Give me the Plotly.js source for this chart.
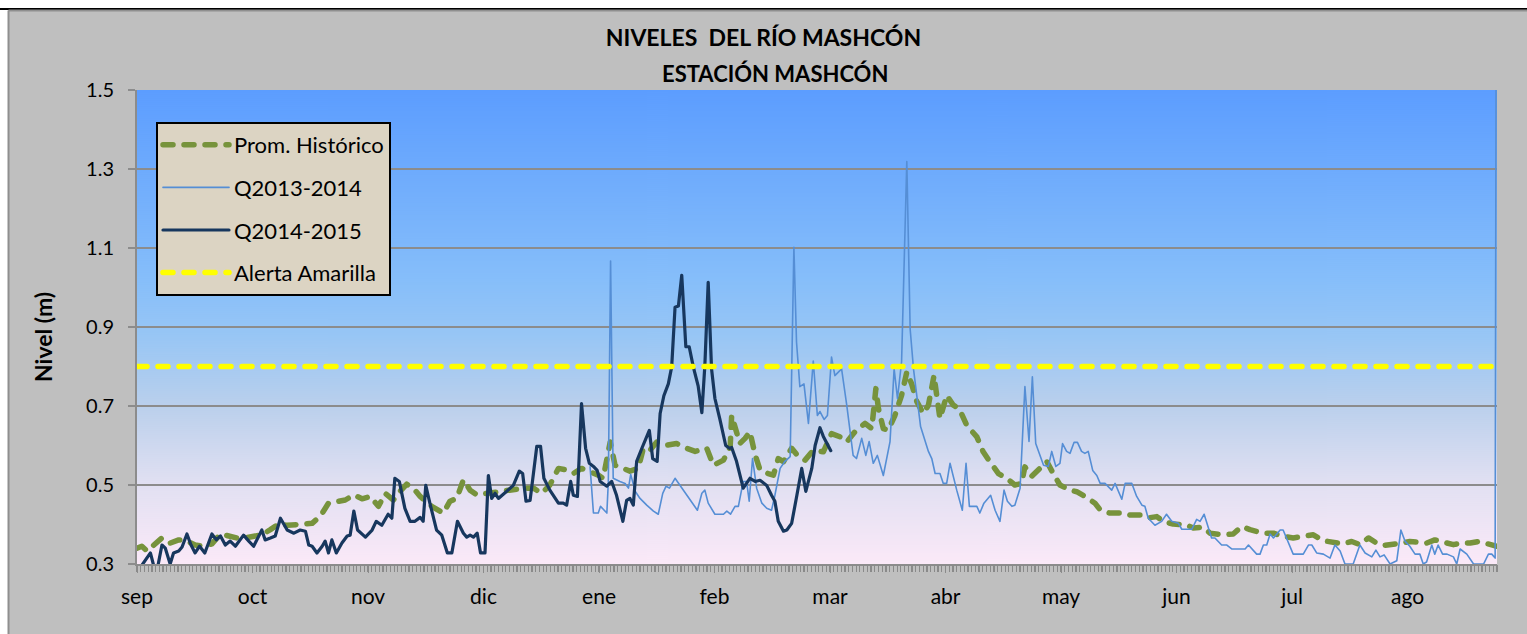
<!DOCTYPE html>
<html>
<head>
<meta charset="utf-8">
<script src="https://cdn.plot.ly/plotly-3.0.1.min.js"></script>
<style>
  html, body { margin: 0; padding: 0; background: #ffffff; }
  #chart { width: 1527px; height: 634px; }
  #chart .js-line { stroke-linecap: round !important; stroke-linejoin: round !important; }
</style>
</head>
<body>
<div id="chart"></div>
<script>
// ---------------- DATA ----------------
// x = day of hydrological year (0 = 1 sep), y = river level (m)
const monthLabels = ["sep","oct","nov","dic","ene","feb","mar","abr","may","jun","jul","ago"];
const monthTickDays = [0,31,62,93,124,155,186,217,248,279,310,341];
const levelTicks = [0.3,0.5,0.7,0.9,1.1,1.3,1.5];

const seriesNames = ["Prom. Histórico","Q2013-2014","Q2014-2015","Alerta Amarilla"];

const histDays = [0,1.3,2.7,4.5,6.7,8.9,11.2,13.4,15.6,17.9,
  20.1,22.4,24.6,26.8,29.1,31.3,33.5,35.8,38.0,40.3,
  42.5,44.7,47.0,49.2,51.4,53.7,55.9,58.2,60.4,62.6,
  64.8,66.6,68.8,70.6,72.4,74.6,76.0,79.1,82.2,84.0,
  85.8,87.6,89.4,91.2,93.9,97.4,101.0,103.7,106.4,108.6,
  110.8,113.1,115.3,117.1,119.3,121.6,123.8,125.1,127.0,128.3,
  130.1,132.3,134.5,135.9,137.7,139.5,142.2,144.8,147.5,149.8,
  152.9,154.7,157.4,159.2,159.6,160.5,161.8,163.2,164.5,165.9,
  167.2,169.4,170.8,172.1,173.5,175.7,177.5,179.3,181.5,184.2,
  186.4,188.7,190.5,192.7,195.4,197.2,198.3,199.0,200.3,201.6,
  203.4,205.2,206.6,207.9,209.3,211.0,212.4,213.9,214.8,215.5,
  217.3,219.1,220.7,222.7,225.4,227.1,228.9,231.2,233.4,235.6,
  237.4,238.3,240.1,242.4,244.2,245.9,247.7,250.4,252.2,254.4,
  257.1,258.5,261.1,264.3,266.5,269.2,271.0,273.7,275.4,278.1,
  281.7,283.5,286.2,288.0,291.5,294.2,296.5,298.7,302.3,305.0,
  307.6,310.3,313.0,315.7,318.4,321.1,323.7,326.0,328.2,330.5,
  332.7,334.5,336.7,339.4,341.6,343.8,346.1,348.3,350.6,353.3,
  355.5,357.8,360.0,362.3,364.1,365];
const histLevels = [0.340,0.345,0.333,0.349,0.366,0.353,0.361,0.358,0.348,0.345,
  0.351,0.376,0.371,0.366,0.366,0.371,0.374,0.387,0.401,0.398,
  0.398,0.401,0.403,0.421,0.454,0.459,0.462,0.475,0.465,0.471,
  0.446,0.479,0.462,0.484,0.502,0.487,0.471,0.446,0.429,0.459,
  0.466,0.513,0.487,0.475,0.479,0.484,0.487,0.492,0.492,0.479,
  0.500,0.542,0.538,0.529,0.542,0.535,0.525,0.517,0.609,0.550,
  0.542,0.535,0.542,0.593,0.588,0.609,0.601,0.605,0.593,0.585,
  0.593,0.550,0.563,0.597,0.676,0.643,0.605,0.618,0.635,0.576,
  0.538,0.529,0.525,0.567,0.559,0.593,0.572,0.563,0.588,0.584,
  0.630,0.622,0.609,0.635,0.656,0.643,0.744,0.693,0.643,0.639,
  0.676,0.727,0.786,0.756,0.711,0.681,0.702,0.777,0.727,0.668,
  0.727,0.702,0.693,0.651,0.622,0.584,0.559,0.529,0.517,0.500,
  0.504,0.546,0.522,0.542,0.559,0.529,0.500,0.487,0.483,0.471,
  0.454,0.437,0.429,0.429,0.424,0.424,0.416,0.420,0.408,0.401,
  0.399,0.391,0.393,0.378,0.374,0.376,0.395,0.387,0.378,0.378,
  0.370,0.366,0.370,0.374,0.359,0.356,0.351,0.357,0.349,0.366,
  0.353,0.347,0.349,0.353,0.357,0.356,0.353,0.361,0.357,0.349,
  0.353,0.353,0.357,0.353,0.349,0.345];

const q1314Days = [121.6,122.5,123.8,124.4,126.1,126.5,127.1,127.8,129.6,131.0,
  131.9,132.5,133.7,135.0,136.8,138.6,139.9,141.1,142.0,142.9,
  144.4,145.7,147.5,149.8,150.4,151.6,152.4,153.3,154.7,155.1,
  157.4,158.3,159.3,160.5,161.4,162.7,163.6,164.3,165.2,166.3,
  167.7,169.0,170.3,171.2,172.6,173.9,175.3,175.7,176.3,177.0,
  177.9,179.0,180.2,181.5,182.6,183.3,184.4,185.3,186.4,187.3,
  189.1,190.5,192.2,193.1,194.5,195.6,196.5,197.6,198.7,200.3,
  202.1,203.2,204.1,205.2,206.6,207.5,208.4,210.3,212.4,213.3,
  214.2,215.5,216.4,217.3,218.2,220.0,221.5,222.5,223.4,225.4,
  226.2,227.3,229.1,230.3,231.6,232.7,233.6,234.8,235.6,237.0,
  238.3,239.4,240.3,241.2,242.4,243.3,244.6,245.5,246.6,247.7,
  248.4,249.5,250.4,251.5,252.4,253.5,254.4,255.3,256.5,257.6,
  258.5,259.8,261.6,262.5,264.3,265.2,267.0,268.3,269.7,270.5,
  271.4,273.2,275.0,276.3,277.7,279.5,280.4,283.1,284.4,285.3,
  286.4,288.4,289.3,291.1,292.5,293.8,297.4,298.3,300.5,301.4,
  302.3,303.2,304.1,305.0,306.8,307.6,310.3,313.0,314.4,315.3,
  316.6,318.4,320.2,321.5,322.9,324.2,326.4,328.2,329.6,331.4,
  332.5,333.6,334.7,336.3,338.1,339.2,340.3,341.6,343.0,344.3,
  345.2,346.1,347.5,348.3,349.2,350.4,351.6,353.3,354.2,355.1,
  356.9,358.7,361.4,362.7,363.6,364.5,364.8];
const q1314Levels = [0.546,0.429,0.429,0.446,0.429,0.509,1.067,0.517,0.509,0.504,
  0.492,0.527,0.484,0.466,0.449,0.434,0.426,0.479,0.497,0.492,
  0.517,0.499,0.474,0.441,0.436,0.479,0.487,0.454,0.434,0.426,
  0.426,0.434,0.426,0.446,0.446,0.509,0.509,0.459,0.567,0.492,
  0.454,0.441,0.436,0.474,0.542,0.560,0.572,0.812,1.102,0.862,
  0.749,0.756,0.656,0.814,0.676,0.686,0.666,0.676,0.824,0.777,
  0.794,0.701,0.575,0.567,0.618,0.575,0.610,0.555,0.575,0.524,
  0.610,0.794,0.719,0.812,1.319,0.895,0.794,0.648,0.585,0.567,
  0.529,0.529,0.504,0.504,0.555,0.487,0.436,0.555,0.446,0.446,
  0.429,0.454,0.474,0.436,0.408,0.487,0.459,0.446,0.449,0.492,
  0.749,0.610,0.774,0.605,0.575,0.550,0.547,0.585,0.547,0.555,
  0.605,0.585,0.580,0.608,0.608,0.585,0.580,0.585,0.537,0.524,
  0.504,0.504,0.487,0.504,0.464,0.504,0.504,0.471,0.449,0.446,
  0.416,0.398,0.408,0.426,0.408,0.403,0.388,0.388,0.413,0.408,
  0.426,0.366,0.366,0.348,0.348,0.338,0.338,0.348,0.325,0.325,
  0.348,0.348,0.376,0.366,0.386,0.386,0.325,0.325,0.348,0.348,
  0.328,0.325,0.315,0.348,0.333,0.300,0.300,0.348,0.328,0.318,
  0.335,0.318,0.323,0.300,0.308,0.386,0.358,0.345,0.325,0.325,
  0.300,0.305,0.348,0.325,0.348,0.325,0.325,0.318,0.300,0.338,
  0.325,0.300,0.300,0.325,0.325,0.315,1.800];

const q1415Days = [0.8,3.6,4.5,5.6,6.7,7.6,8.9,9.8,11.2,12.1,
  13.4,14.5,15.6,16.8,18.2,20.1,21.3,22.4,23.7,25.0,
  26.4,28.6,30.0,31.3,33.5,34.4,35.8,37.1,38.5,40.3,
  42.1,43.8,45.2,46.1,47.0,48.3,49.7,50.5,51.4,52.3,
  53.5,55.0,56.4,57.2,58.2,59.2,61.3,63.1,64.2,65.7,
  67.4,68.4,69.2,70.4,71.9,73.3,74.6,76.0,76.8,77.5,
  78.6,80.4,81.8,83.3,84.5,86.0,87.6,88.5,89.4,90.3,
  91.3,92.2,93.4,94.3,95.2,96.1,97.0,99.2,101.0,102.6,
  103.5,104.4,105.5,107.3,108.3,109.2,110.8,113.1,114.4,115.3,
  116.4,117.1,118.2,119.3,120.4,121.4,122.5,123.5,124.3,126.1,
  127.4,128.7,130.4,131.4,132.3,133.2,134.1,135.5,137.5,138.4,
  139.6,140.4,141.4,142.6,143.5,144.4,145.3,146.2,147.3,148.2,
  149.3,150.6,151.6,152.4,153.3,154.2,155.1,156.4,158.0,159.0,
  159.6,160.9,162.7,164.5,165.9,167.2,169.0,170.3,171.2,172.1,
  173.5,174.4,175.7,177.1,178.4,179.5,181.1,182.0,183.3,184.2,
  185.1,186.2];
const q1415Levels = [0.290,0.328,0.295,0.295,0.348,0.340,0.300,0.328,0.333,0.343,
  0.376,0.348,0.328,0.345,0.328,0.376,0.361,0.371,0.348,0.358,
  0.345,0.373,0.358,0.345,0.386,0.361,0.366,0.371,0.416,0.386,
  0.378,0.386,0.383,0.348,0.345,0.328,0.345,0.358,0.328,0.361,
  0.328,0.353,0.371,0.373,0.434,0.386,0.368,0.386,0.408,0.398,
  0.426,0.416,0.517,0.509,0.441,0.408,0.408,0.418,0.408,0.499,
  0.454,0.386,0.373,0.328,0.328,0.408,0.378,0.368,0.373,0.368,
  0.378,0.328,0.328,0.524,0.466,0.479,0.466,0.484,0.499,0.535,
  0.529,0.459,0.461,0.598,0.598,0.517,0.487,0.454,0.454,0.449,
  0.509,0.474,0.471,0.706,0.593,0.555,0.547,0.537,0.509,0.497,
  0.509,0.474,0.408,0.461,0.466,0.449,0.560,0.593,0.638,0.567,
  0.560,0.681,0.726,0.756,0.799,0.950,0.953,1.031,0.850,0.850,
  0.799,0.751,0.683,0.802,1.013,0.794,0.719,0.668,0.600,0.593,
  0.595,0.560,0.492,0.517,0.509,0.512,0.499,0.474,0.459,0.408,
  0.383,0.386,0.403,0.474,0.542,0.484,0.542,0.600,0.645,0.623,
  0.605,0.587];

const alertDays = [0, 365];
const alertLevels = [0.8, 0.8];

// ---------------- STYLE ----------------
const FONT = 'Lato, "Open Sans", sans-serif';

function gradientImage() {
  const c = document.createElement('canvas');
  c.width = 4; c.height = 474;
  const g = c.getContext('2d');
  const gr = g.createLinearGradient(0, 0, 0, 474);
  gr.addColorStop(0.00, '#5c9dff');
  gr.addColorStop(0.40, '#86befa');
  gr.addColorStop(0.52, '#98c6f5');
  gr.addColorStop(0.67, '#bbd0ec');
  gr.addColorStop(0.83, '#e1e0f2');
  gr.addColorStop(1.00, '#fbe9f8');
  g.fillStyle = gr;
  g.fillRect(0, 0, 4, 474);
  return c.toDataURL('image/png');
}

const traces = [
  { x: histDays, y: histLevels, name: seriesNames[0], legendgroup: 'g0', mode: 'lines',
    line: { color: '#77933c', width: 5.5, dash: '10px,11px' }, hoverinfo: 'skip' },
  { x: q1314Days, y: q1314Levels, name: seriesNames[1], legendgroup: 'g1', mode: 'lines',
    line: { color: '#558ed5', width: 1.6 }, hoverinfo: 'skip' },
  { x: q1415Days, y: q1415Levels, name: seriesNames[2], legendgroup: 'g2', mode: 'lines',
    line: { color: '#17375e', width: 3.2 }, hoverinfo: 'skip' },
  { x: alertDays, y: alertLevels, name: seriesNames[3], legendgroup: 'g3', mode: 'lines',
    xaxis: 'x2',
    line: { color: '#ffff00', width: 5.5, dash: '10px,11px' }, hoverinfo: 'skip' }
];

// pixel helpers -> paper coords (plot area 137..1497 x 90..564)
const PX = x => (x - 137) / 1360;
const PY = y => (564 - y) / 474;

const layout = {
  width: 1527, height: 634,
  margin: { l: 137, r: 30, t: 90, b: 70, pad: 0 },
  paper_bgcolor: '#bfbfbf',
  plot_bgcolor: 'rgba(0,0,0,0)',
  font: { family: FONT, color: '#000000', size: 20 },
  title: {
    text: '<b>NIVELES&nbsp; DEL RÍO MASHCÓN</b>',
    x: 0.5, xref: 'container', xanchor: 'center',
    y: 1 - 38 / 634, yref: 'container', yanchor: 'middle',
    font: { family: FONT, size: 23, color: '#000000' }
  },
  showlegend: true,
  legend: {
    x: PX(156), y: PY(122), xanchor: 'left', yanchor: 'top',
    bgcolor: '#dcd4c3', bordercolor: '#000000', borderwidth: 2,
    font: { family: FONT, size: 22, color: '#000000' },
    itemwidth: 66, tracegroupgap: 11, traceorder: 'grouped'
  },
  xaxis: {
    range: [0, 365], fixedrange: true,
    tickmode: 'array', tickvals: monthTickDays, ticktext: monthLabels,
    ticks: 'outside', ticklen: 7, tickcolor: '#8c8c8c', tickwidth: 1,
    ticklabelstandoff: 6,
    tickfont: { family: FONT, size: 21, color: '#000000' },
    showgrid: false, zeroline: false,
    showline: true, linecolor: '#8c8c8c', linewidth: 2
  },
  // daily tick marks along the category axis (no labels)
  xaxis2: {
    overlaying: 'x', side: 'bottom', anchor: 'y', range: [0, 365], fixedrange: true,
    tickmode: 'linear', tick0: 0, dtick: 1,
    ticks: 'outside', ticklen: 7, tickcolor: '#8a8a8a', tickwidth: 1.2,
    showticklabels: false, showgrid: false, zeroline: false, showline: false
  },
  yaxis: {
    range: [0.3, 1.5], fixedrange: true,
    tickmode: 'array', tickvals: levelTicks, tickformat: '.1f',
    ticks: 'outside', ticklen: 7, tickcolor: '#8c8c8c', tickwidth: 1.5,
    ticklabelstandoff: 10,
    tickfont: { family: FONT, size: 20, color: '#000000' },
    showgrid: true, gridcolor: '#8c8c8c', gridwidth: 1.6, zeroline: false,
    showline: true, linecolor: '#8c8c8c', linewidth: 2
  },
  images: [{
    source: gradientImage(), xref: 'paper', yref: 'paper',
    x: 0, y: 1, sizex: 1, sizey: 1, xanchor: 'left', yanchor: 'top',
    sizing: 'stretch', layer: 'below'
  }],
  annotations: [
    { text: '<b>ESTACIÓN MASHCÓN</b>', xref: 'paper', yref: 'paper',
      x: PX(775), y: PY(73), xanchor: 'center', yanchor: 'middle', showarrow: false,
      font: { family: FONT, size: 22, color: '#000000' } },
    { text: '<b>Nivel (m)</b>', xref: 'paper', yref: 'paper',
      x: PX(43), y: PY(337), xanchor: 'center', yanchor: 'middle', showarrow: false,
      textangle: -90, font: { family: FONT, size: 23, color: '#000000' } }
  ],
  shapes: [
    { type: 'rect', xref: 'paper', yref: 'paper', x0: PX(-20), x1: PX(1560), y0: PY(9), y1: PY(-20),
      fillcolor: '#ffffff', line: { width: 0 }, layer: 'below' },
    { type: 'rect', xref: 'paper', yref: 'paper', x0: PX(-20), x1: PX(8), y0: PY(660), y1: PY(9),
      fillcolor: '#ffffff', line: { width: 0 }, layer: 'below' },
    { type: 'line', xref: 'paper', yref: 'paper', x0: PX(0), x1: PX(1527), y0: PY(9), y1: PY(9),
      line: { color: '#000000', width: 2 } },
    { type: 'line', xref: 'paper', yref: 'paper', x0: PX(8.5), x1: PX(1540), y0: PY(10.5), y1: PY(10.5),
      line: { color: '#8f8f8f', width: 2 } },
    { type: 'line', xref: 'paper', yref: 'paper', x0: PX(8.5), x1: PX(8.5), y0: PY(10.5), y1: PY(660),
      line: { color: '#8f8f8f', width: 2 } }
  ]
};

Plotly.newPlot('chart', traces, layout, { staticPlot: true, displayModeBar: false });
</script>
</body>
</html>
